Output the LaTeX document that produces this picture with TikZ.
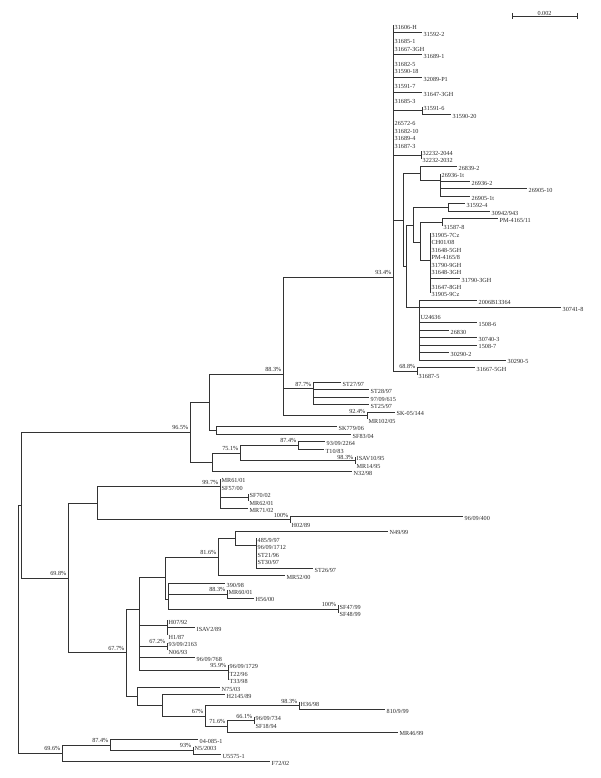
\documentclass[tikz,border=0pt]{standalone}
\usepackage{fontspec}
\setmainfont{Liberation Serif}
\usetikzlibrary{positioning}

\tikzset{
  br/.style={draw=black!80, line width=0.6pt},
  lf/.style={anchor=west, inner xsep=1.5pt, inner ysep=0pt, text height=8.1pt, text depth=0pt, font=\fontsize{6.2}{7}\selectfont, text=black!85},
  bs/.style={anchor=south east, inner sep=0pt, text depth=0pt, xshift=-1.5pt, yshift=2.4pt, font=\fontsize{6.2}{7}\selectfont, text=black!85}
}

\begin{document}
\begin{tikzpicture}[x=1pt, y=-7.44pt]
  \useasboundingbox (0,-2.36) rectangle (600,102.21);

  \coordinate (root) at (18,82.2);
  \coordinate (n21) at (21,65.53);
  \coordinate (n965) at (190,55.73);
  \coordinate (n209) at (209,51.72);
  \coordinate (n883) at (283,47.93);
  \coordinate (n934) at (393,34.86);
  \coordinate (n12) at (422,12.5);
  \coordinate (n3223) at (421,18.5);
  \coordinate (nA) at (403,27.19);
  \coordinate (n420) at (420,20.94);
  \coordinate (n440) at (440,21.875);
  \coordinate (nB) at (406,33.44);
  \coordinate (nC) at (413,27.875);
  \coordinate (n448) at (448,25.5);
  \coordinate (nE) at (420,30.25);
  \coordinate (n442) at (442,27.5);
  \coordinate (n430) at (430,32.6);
  \coordinate (nD) at (419,39);
  \coordinate (n688) at (417,47.5);
  \coordinate (n877) at (313,49.875);
  \coordinate (n924) at (367,53.5);
  \coordinate (nSK) at (216,55.5);
  \coordinate (n212) at (212,59.75);
  \coordinate (n751) at (240,58.5);
  \coordinate (n874) at (298,57.5);
  \coordinate (n983) at (355,59.5);
  \coordinate (n698) at (68,75.32);
  \coordinate (n97) at (97,65.28);
  \coordinate (n997) at (220,63.06);
  \coordinate (n248) at (248,64.5);
  \coordinate (n100a) at (290,67.5);
  \coordinate (n677) at (126,85.36);
  \coordinate (n139) at (139,79.51);
  \coordinate (n165) at (165,75.30);
  \coordinate (n816) at (218,72.48);
  \coordinate (n235) at (235,69.97);
  \coordinate (n256) at (256,70.94);
  \coordinate (n169) at (168,78.125);
  \coordinate (n883b) at (227,77.5);
  \coordinate (n100b) at (338,79.5);
  \coordinate (n167) at (167,81.75);
  \coordinate (n672) at (167,84.5);
  \coordinate (n959) at (228,87.75);
  \coordinate (n137) at (137,91.22);
  \coordinate (n162) at (162,92.44);
  \coordinate (n67) at (205,93.875);
  \coordinate (n983b) at (299,92.5);
  \coordinate (n716) at (227,95.25);
  \coordinate (n661) at (254,94.5);
  \coordinate (n696) at (62,98.875);
  \coordinate (n874b) at (110,97.75);
  \coordinate (n93) at (193,98.5);

  \node[lf] (t1) at (393,1) {31606-H};
  \node[lf] (t2) at (422,2) {31592-2};
  \node[lf] (t3) at (393,3) {31685-1};
  \node[lf] (t4) at (393,4) {31667-3GH};
  \node[lf] (t5) at (422,5) {31689-1};
  \node[lf] (t6) at (393,6) {31682-5};
  \node[lf] (t7) at (393,7) {31590-18};
  \node[lf] (t8) at (422,8) {32089-P1};
  \node[lf] (t9) at (393,9) {31591-7};
  \node[lf] (t10) at (422,10) {31647-3GH};
  \node[lf] (t11) at (393,11) {31685-3};
  \node[lf] (t12) at (422,12) {31591-6};
  \node[lf] (t13) at (451,13) {31590-20};
  \node[lf] (t14) at (393,14) {26572-6};
  \node[lf] (t15) at (393,15) {31682-10};
  \node[lf] (t16) at (393,16) {31689-4};
  \node[lf] (t17) at (393,17) {31687-3};
  \node[lf] (t18) at (421,18) {32232-2044};
  \node[lf] (t19) at (421,19) {32232-2032};
  \node[lf] (t20) at (457,20) {26839-2};
  \node[lf] (t21) at (440,21) {26936-1t};
  \node[lf] (t22) at (470,22) {26936-2};
  \node[lf] (t23) at (527,23) {26905-10};
  \node[lf] (t24) at (470,24) {26905-1t};
  \node[lf] (t25) at (465,25) {31592-4};
  \node[lf] (t26) at (490,26) {30942/943};
  \node[lf] (t27) at (498,27) {PM-4165/11};
  \node[lf] (t28) at (442,28) {31587-8};
  \node[lf] (t29) at (430,29) {31905-7Cz};
  \node[lf] (t30) at (430,30) {CH01/08};
  \node[lf] (t31) at (430,31) {31648-5GH};
  \node[lf] (t32) at (430,32) {PM-4165/8};
  \node[lf] (t33) at (430,33) {31790-9GH};
  \node[lf] (t34) at (430,34) {31648-3GH};
  \node[lf] (t35) at (460,35) {31790-3GH};
  \node[lf] (t36) at (430,36) {31647-8GH};
  \node[lf] (t37) at (430,37) {31905-9Cz};
  \node[lf] (t38) at (477,38) {2006B13364};
  \node[lf] (t39) at (561,39) {30741-8};
  \node[lf] (t40) at (419,40) {U24636};
  \node[lf] (t41) at (477,41) {1508-6};
  \node[lf] (t42) at (449,42) {26830};
  \node[lf] (t43) at (477,43) {30740-3};
  \node[lf] (t44) at (477,44) {1508-7};
  \node[lf] (t45) at (449,45) {30290-2};
  \node[lf] (t46) at (506,46) {30290-5};
  \node[lf] (t47) at (475,47) {31667-5GH};
  \node[lf] (t48) at (417,48) {31687-5};
  \node[lf] (t49) at (341,49) {ST27/97};
  \node[lf] (t50) at (369,50) {ST28/97};
  \node[lf] (t51) at (369,51) {97/09/615};
  \node[lf] (t52) at (369,52) {ST25/97};
  \node[lf] (t53) at (395,53) {SK-05/144};
  \node[lf] (t54) at (367,54) {MR102/05};
  \node[lf] (t55) at (337,55) {SK779/06};
  \node[lf] (t56) at (351,56) {SF83/04};
  \node[lf] (t57) at (325,57) {93/09/2264};
  \node[lf] (t58) at (324,58) {T10/83};
  \node[lf] (t59) at (355,59) {ISAV10/95};
  \node[lf] (t60) at (355,60) {MR14/95};
  \node[lf] (t61) at (352,61) {N32/98};
  \node[lf] (t62) at (220,62) {MR61/01};
  \node[lf] (t63) at (220,63) {SF57/00};
  \node[lf] (t64) at (248,64) {SF70/02};
  \node[lf] (t65) at (248,65) {MR62/01};
  \node[lf] (t66) at (248,66) {MR71/02};
  \node[lf] (t67) at (463,67) {96/09/400};
  \node[lf] (t68) at (290,68) {H02/89};
  \node[lf] (t69) at (388,69) {N49/99};
  \node[lf] (t70) at (256,70) {485/9/97};
  \node[lf] (t71) at (256,71) {96/09/1712};
  \node[lf] (t72) at (256,72) {ST21/96};
  \node[lf] (t73) at (256,73) {ST30/97};
  \node[lf] (t74) at (313,74) {ST26/97};
  \node[lf] (t75) at (285,75) {MR52/00};
  \node[lf] (t76) at (225,76) {390/98};
  \node[lf] (t77) at (227,77) {MR60/01};
  \node[lf] (t78) at (254,78) {H56/00};
  \node[lf] (t79) at (338,79) {SF47/99};
  \node[lf] (t80) at (338,80) {SF48/99};
  \node[lf] (t81) at (167,81) {H07/92};
  \node[lf] (t82) at (195,82) {ISAV2/89};
  \node[lf] (t83) at (167,83) {H1/87};
  \node[lf] (t84) at (167,84) {93/09/2163};
  \node[lf] (t85) at (167,85) {N06/93};
  \node[lf] (t86) at (195,86) {96/09/768};
  \node[lf] (t87) at (228,87) {96/09/1729};
  \node[lf] (t88) at (228,88) {T22/96};
  \node[lf] (t89) at (228,89) {T33/98};
  \node[lf] (t90) at (220,90) {N75/03};
  \node[lf] (t91) at (225,91) {H2145/89};
  \node[lf] (t92) at (299,92) {H36/98};
  \node[lf] (t93) at (385,93) {810/9/99};
  \node[lf] (t94) at (254,94) {96/09/734};
  \node[lf] (t95) at (254,95) {SF18/94};
  \node[lf] (t96) at (398,96) {MR46/99};
  \node[lf] (t97) at (198,97) {04-085-1};
  \node[lf] (t98) at (193,98) {N5/2003};
  \node[lf] (t99) at (221,99) {U5575-1};
  \node[lf] (t100) at (270,100) {F72/02};

  \draw[br] (root) |- (n21) (root) |- (n696);
  \draw[br] (n21) |- (n965) (n21) |- (n698);
  \draw[br] (n965) |- (n209) (n965) |- (n212);
  \draw[br] (n209) |- (n883) (n209) |- (nSK);
  \draw[br] (n883) |- (n934) (n883) |- (n877) (n883) |- (n924);
  \foreach \k in {1,...,11,14,15,16,17} \draw[br] (n934) |- (t\k.west);
  \foreach \k in {n12,n3223,nA,n688} \draw[br] (n934) |- (\k);
  \draw[br] (n12) |- (t12.west) (n12) |- (t13.west);
  \draw[br] (n3223) |- (t18.west) (n3223) |- (t19.west);
  \draw[br] (nA) |- (n420) (nA) |- (nB);
  \draw[br] (n420) |- (t20.west) (n420) |- (n440);
  \foreach \k in {21,...,24} \draw[br] (n440) |- (t\k.west);
  \draw[br] (nB) |- (nC) (nB) |- (nD);
  \draw[br] (nC) |- (n448) (nC) |- (nE);
  \draw[br] (n448) |- (t25.west) (n448) |- (t26.west);
  \draw[br] (nE) |- (n442) (nE) |- (n430);
  \draw[br] (n442) |- (t27.west) (n442) |- (t28.west);
  \foreach \k in {29,...,37} \draw[br] (n430) |- (t\k.west);
  \foreach \k in {38,...,46} \draw[br] (nD) |- (t\k.west);
  \draw[br] (n688) |- (t47.west) (n688) |- (t48.west);
  \foreach \k in {49,...,52} \draw[br] (n877) |- (t\k.west);
  \draw[br] (n924) |- (t53.west) (n924) |- (t54.west);
  \draw[br] (nSK) |- (t55.west) (nSK) |- (t56.west);
  \draw[br] (n212) |- (n751) (n212) |- (t61.west);
  \draw[br] (n751) |- (n874) (n751) |- (n983);
  \draw[br] (n874) |- (t57.west) (n874) |- (t58.west);
  \draw[br] (n983) |- (t59.west) (n983) |- (t60.west);
  \draw[br] (n698) |- (n97) (n698) |- (n677);
  \draw[br] (n97) |- (n997) (n97) |- (n100a);
  \draw[br] (n997) |- (t62.west) (n997) |- (t63.west) (n997) |- (n248) (n997) |- (t66.west);
  \draw[br] (n248) |- (t64.west) (n248) |- (t65.west);
  \draw[br] (n100a) |- (t67.west) (n100a) |- (t68.west);
  \draw[br] (n677) |- (n139) (n677) |- (n137);
  \foreach \k in {n165,n167,n672,n959} \draw[br] (n139) |- (\k);
  \draw[br] (n139) |- (t86.west);
  \draw[br] (n165) |- (n816) (n165) |- (n169);
  \draw[br] (n816) |- (n235) (n816) |- (t75.west);
  \draw[br] (n235) |- (t69.west) (n235) |- (n256);
  \foreach \k in {70,...,74} \draw[br] (n256) |- (t\k.west);
  \draw[br] (n169) |- (t76.west) (n169) |- (n883b) (n169) |- (n100b);
  \draw[br] (n883b) |- (t77.west) (n883b) |- (t78.west);
  \draw[br] (n100b) |- (t79.west) (n100b) |- (t80.west);
  \foreach \k in {81,82,83} \draw[br] (n167) |- (t\k.west);
  \draw[br] (n672) |- (t84.west) (n672) |- (t85.west);
  \foreach \k in {87,88,89} \draw[br] (n959) |- (t\k.west);
  \draw[br] (n137) |- (t90.west) (n137) |- (n162);
  \draw[br] (n162) |- (t91.west) (n162) |- (n67);
  \draw[br] (n67) |- (n983b) (n67) |- (n716);
  \draw[br] (n983b) |- (t92.west) (n983b) |- (t93.west);
  \draw[br] (n716) |- (n661) (n716) |- (t96.west);
  \draw[br] (n661) |- (t94.west) (n661) |- (t95.west);
  \draw[br] (n696) |- (n874b) (n696) |- (t100.west);
  \draw[br] (n874b) |- (t97.west) (n874b) |- (n93);
  \draw[br] (n93) |- (t98.west) (n93) |- (t99.west);

  \node[bs] (b934) at (n934) {93.4\%};
  \node[bs] (b883) at (n883) {88.3\%};
  \node[bs] (b877) at (n877) {87.7\%};
  \node[bs] (b924) at (n924) {92.4\%};
  \node[bs] (b688) at (n688) {68.8\%};
  \node[bs] (b965) at (n965) {96.5\%};
  \node[bs] (b751) at (n751) {75.1\%};
  \node[bs] (b874) at (n874) {87.4\%};
  \node[bs, yshift=-1.4pt] (b983) at (n983) {98.3\%};
  \node[bs] (b997) at (n997) {99.7\%};
  \node[bs] (b100a) at (n100a) {100\%};
  \node[bs] (b698) at (n698) {69.8\%};
  \node[bs] (b816) at (n816) {81.6\%};
  \node[bs] (b883b) at (n883b) {88.3\%};
  \node[bs] (b100b) at (n100b) {100\%};
  \node[bs] (b672) at (n672) {67.2\%};
  \node[bs] (b677) at (n677) {67.7\%};
  \node[bs] (b959) at (n959) {95.9\%};
  \node[bs] (b983b) at (n983b) {98.3\%};
  \node[bs] (b67) at (n67) {67\%};
  \node[bs] (b716) at (n716) {71.6\%};
  \node[bs] (b661) at (n661) {66.1\%};
  \node[bs] (b696) at (n696) {69.6\%};
  \node[bs] (b874b) at (n874b) {87.4\%};
  \node[bs] (b93) at (n93) {93\%};

  \coordinate (sb1) at (512,-0.21);
  \coordinate (sb2) at (577,-0.21);
  \draw[br] (sb1) -- (sb2);
  \draw[br] ([yshift=3pt]sb1) -- ([yshift=-3pt]sb1);
  \draw[br] ([yshift=3pt]sb2) -- ([yshift=-3pt]sb2);
  \node[anchor=south, inner sep=0pt, font=\fontsize{6.2}{7}\selectfont, text=black!85] (sbt) at (544.5,-0.21) {0.002};
\end{tikzpicture}
\end{document}
